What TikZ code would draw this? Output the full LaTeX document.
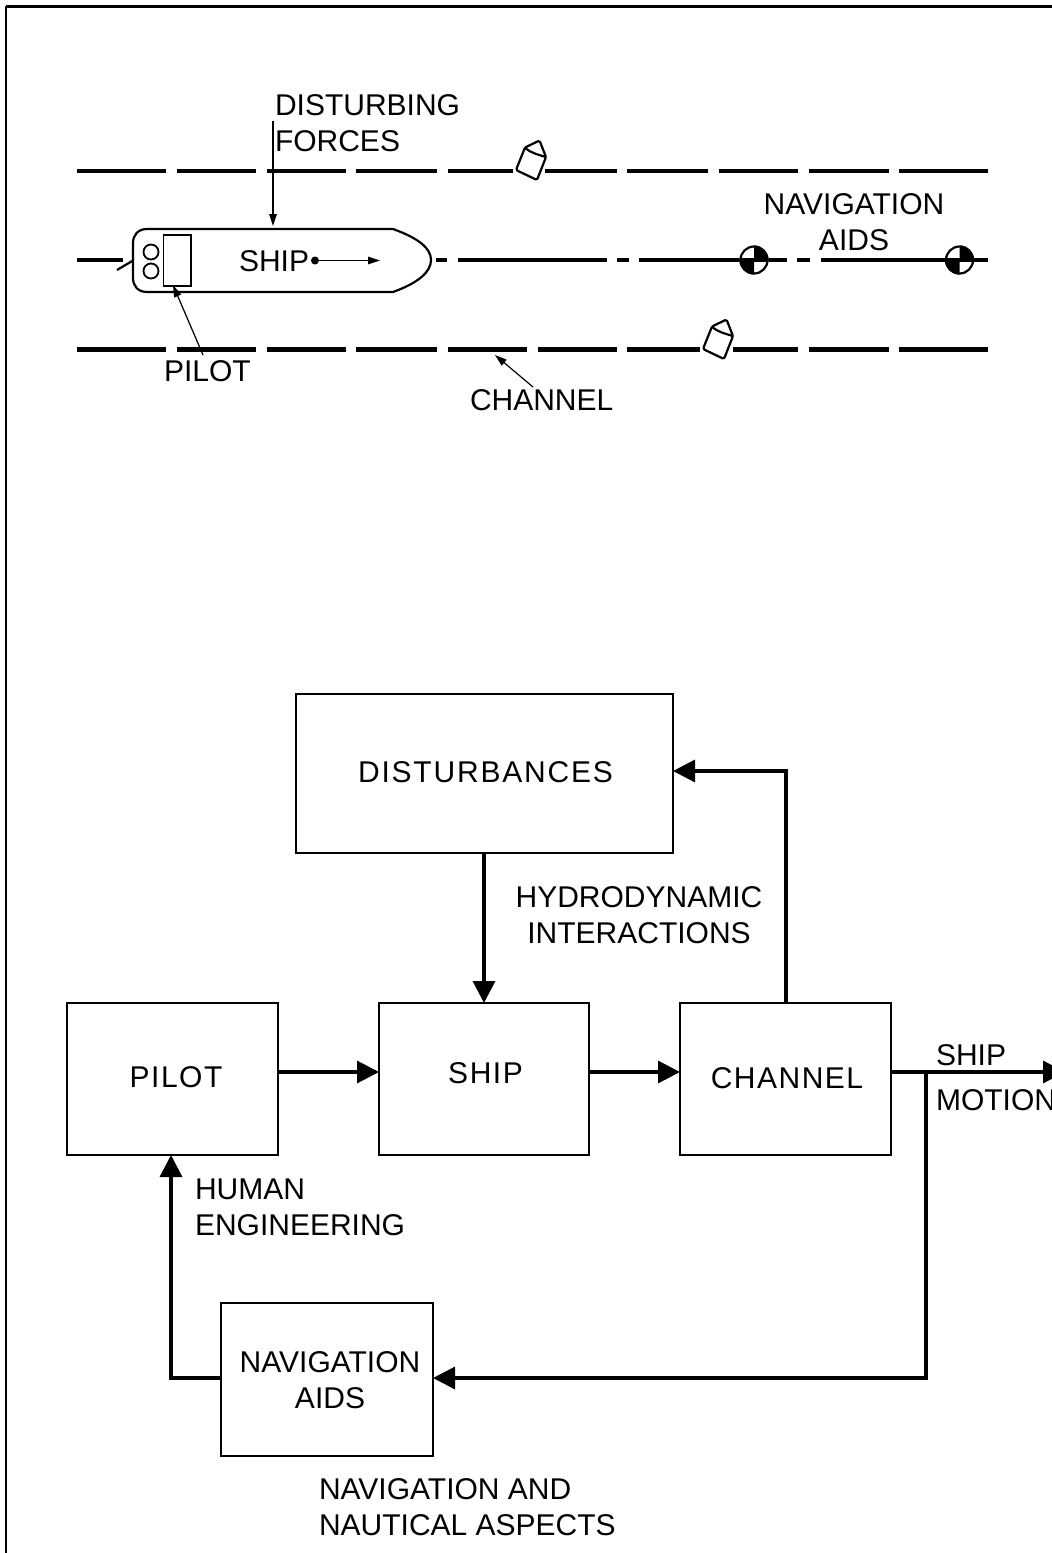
\documentclass[tikz,border=0pt]{standalone}
\usepackage{fontspec}
\setmainfont{Liberation Sans}
\usetikzlibrary{arrows.meta}
\tikzset{
  txt/.style={inner sep=0pt,outer sep=0pt,font=\fontsize{30}{36}\selectfont},
  spaced/.style={inner sep=0pt,outer sep=0pt,font=\fontsize{30}{36}\selectfont\addfontfeature{LetterSpace=#1}},
  blockbox/.style={draw=black,line width=1.9pt,inner sep=0pt,outer sep=0pt},
  flow/.style={line width=3.2pt,-{Triangle[length=22pt,width=22pt]}},
  thinarrow/.style={line width=1.2pt,-{Triangle[length=12pt,width=7.5pt]}},
  channelline/.style={line width=4.8pt},
  shipline/.style={line width=2.2pt,line join=round}
}
\begin{document}
\begin{tikzpicture}[x=1pt,y=-1pt]
\clip (0,0) rectangle (1052,1553);
% frame
\draw[line width=3pt] (6,6) -- (1060,6);
\draw[line width=2pt] (6,6) -- (6,1560);
% channel lines
\foreach \a/\b in {77/166,177/256,267/346,356/437,448/513,545/617,627/708,719/798,809/889,899/988}
  \draw[channelline] (\a,171) -- (\b,171);
\foreach \a/\b in {77/166,177/256,267/346,356/437,448/527,538/617,627/700,733/798,809/889,899/988}
  \draw[channelline] (\a,349.5) -- (\b,349.5);
\foreach \a/\b in {77/123,436/447,458/607,617/629,639/787,797/810,821/988}
  \draw[channelline] (\a,260) -- (\b,260);
% buoys
\foreach \dx/\dy in {0/0,187/179}{
  \begin{scope}[shift={(\dx,\dy)}]
    \draw[shipline,fill=white,rounded corners=1.5pt] (516,170) -- (525,147.5) -- (539.5,140.5) -- (546,157) -- (537,180) -- cycle;
    \draw[shipline] (525,148) .. controls (531,153) and (539,155) .. (546,157);
  \end{scope}
}
% navigation aids
\foreach \cx in {754,959.5}{
  \fill[white] (\cx,260) circle[radius=14.5pt];
  \fill[black] (\cx,260) -- (\cx+14.5,260) arc[start angle=0,end angle=90,radius=14.5pt] -- cycle;
  \fill[black] (\cx,260) -- (\cx-14.5,260) arc[start angle=180,end angle=270,radius=14.5pt] -- cycle;
  \draw[line width=2.2pt] (\cx,260) circle[radius=13.5pt];
  \draw[line width=3.5pt] (\cx-14,260) -- (\cx+14,260);
}
% ship
\draw[shipline,fill=white] (147,229) -- (393,229) .. controls (418,238) and (431,248) .. (431,260)
  .. controls (431,272) and (418,283) .. (393,292) -- (147,292)
  .. controls (138,292) and (133,286) .. (133,278) -- (133,243) .. controls (133,235) and (138,229) .. (147,229) -- cycle;
\draw[shipline] (117,270) -- (133,260.5);
\draw[line width=1.8pt] (151,252) circle[radius=7.5pt];
\draw[line width=1.8pt] (151,271) circle[radius=7.5pt];
\draw[line width=1.9pt] (163.5,235) rectangle (191,286);
\fill (315,260.5) circle[radius=4pt];
\coordinate (motiondot) at (315,260.5);
\coordinate (motionend) at (380,260.5);
\draw[thinarrow] (motiondot) -- (motionend);
% scene labels
\node[txt,anchor=base west,align=left] (lforces) at (275,151) {DISTURBING\\FORCES};
\node[txt,anchor=base west] (lpilot) at (164,381) {PILOT};
\node[txt,anchor=base west] (lship) at (239,271) {SHIP};
\node[txt,anchor=base west] (lchannel) at (470,410) {CHANNEL};
\node[txt,anchor=base,align=center] (lnav) at (854,250) {NAVIGATION\\AIDS};
\coordinate (fstart) at (273,121);
\coordinate (fend) at (273,226);
\coordinate (pstart) at (203,355);
\coordinate (pend) at (173,285);
\coordinate (cstart) at (533,387);
\coordinate (cend) at (495,355);
\draw[thinarrow] (fstart) -- (fend);
\draw[thinarrow] (pstart) -- (pend);
\draw[thinarrow] (cstart) -- (cend);
% block diagram
\node[blockbox,minimum width=377pt,minimum height=159pt,anchor=north west] (dist) at (296,694) {};
\node[blockbox,minimum width=211pt,minimum height=152pt,anchor=north west] (pilot) at (67,1003) {};
\node[blockbox,minimum width=210pt,minimum height=152pt,anchor=north west] (ship) at (379,1003) {};
\node[blockbox,minimum width=211pt,minimum height=152pt,anchor=north west] (channel) at (680,1003) {};
\node[blockbox,minimum width=212pt,minimum height=153pt,anchor=north west] (nav) at (221,1303) {};
\node[spaced=6,anchor=base] (tdist) at (485.5,782) {DISTURBANCES};
\node[spaced=5,anchor=base] (tpilot) at (176,1087) {PILOT};
\node[spaced=5,anchor=base] (tship) at (485.5,1083) {SHIP};
\node[spaced=5,anchor=base] (tchannel) at (787,1088) {CHANNEL};
\node[txt,anchor=base,align=center] (tnav) at (330,1408) {NAVIGATION\\AIDS};
\node[txt,anchor=base,align=center] (thydro) at (639,943) {HYDRODYNAMIC\\INTERACTIONS};
\node[txt,anchor=base west,align=left] (thuman) at (195,1235) {HUMAN\\ENGINEERING};
\node[txt,anchor=base west,align=left] (tnaut) at (319,1535) {NAVIGATION AND\\NAUTICAL ASPECTS};
\node[txt,anchor=base west] (tsm1) at (936,1065) {SHIP};
\node[txt,anchor=base west] (tsm2) at (936,1110) {MOTION};
\coordinate (out) at (1065,1072);
\coordinate (branch) at (926,1072);
\coordinate (busy) at (0,1072);
\coordinate (navy) at (0,1378);
\coordinate (disty) at (0,771);
\coordinate (upx) at (786,0);
\coordinate (pilotx) at (171,0);
\draw[flow] (dist.south -| ship.north) -- (ship.north);
\draw[flow] (pilot.east |- busy) -- (ship.west |- busy);
\draw[flow] (ship.east |- busy) -- (channel.west |- busy);
\draw[flow] (channel.east |- busy) -- (out);
\draw[flow] (upx |- channel.north) -- (upx |- disty) -- (dist.east |- disty);
\draw[flow] (branch) -- (branch |- navy) -- (nav.east |- navy);
\draw[flow] (nav.west |- navy) -- (pilotx |- navy) -- (pilotx |- pilot.south);
\end{tikzpicture}
\end{document}
